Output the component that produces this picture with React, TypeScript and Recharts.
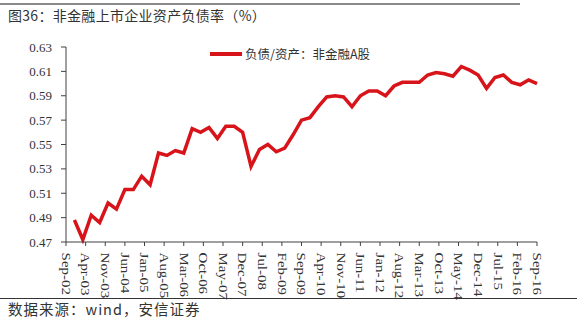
import React from 'react'
import { LineChart, Line, XAxis, YAxis } from 'recharts'

// quarterly values, Dec-02 .. Sep-16
const debtRatio = [
  0.488, 0.472, 0.492, 0.486, 0.502, 0.497, 0.513, 0.513, 0.524, 0.517,
  0.543, 0.541, 0.545, 0.543, 0.563, 0.560, 0.564, 0.555, 0.565, 0.565,
  0.560, 0.532, 0.546, 0.550, 0.544, 0.547, 0.558, 0.570, 0.572, 0.581,
  0.589, 0.590, 0.589, 0.581, 0.590, 0.594, 0.594, 0.590, 0.598, 0.601,
  0.601, 0.601, 0.607, 0.609, 0.608, 0.606, 0.614, 0.611, 0.607, 0.596,
  0.605, 0.607, 0.601, 0.599, 0.603, 0.600,
]

const xLabels = [
  'Sep-02', 'Apr-03', 'Nov-03', 'Jun-04', 'Jan-05', 'Aug-05', 'Mar-06', 'Oct-06',
  'May-07', 'Dec-07', 'Jul-08', 'Feb-09', 'Sep-09', 'Apr-10', 'Nov-10', 'Jun-11',
  'Jan-12', 'Aug-12', 'Mar-13', 'Oct-13', 'May-14', 'Dec-14', 'Jul-15', 'Feb-16', 'Sep-16',
]

const yTicks = [0.47, 0.49, 0.51, 0.53, 0.55, 0.57, 0.59, 0.61, 0.63]

// month offset from Sep-02; one point per quarter
const data = debtRatio.map((v, i) => ({ m: (i + 1) * 3, v }))
const xTicks = xLabels.map((_, i) => i * 7)

const RED = '#d8141b'
const AXIS = '#404040'
const serif = '"Liberation Serif", "Times New Roman", serif'
const cjk = '"Noto Sans CJK SC", sans-serif'

function XTick(props: any) {
  const { x, y, payload } = props
  const label = xLabels[Math.round(payload.value / 7)]
  return (
    <g transform={`translate(${x},${y})`}>
      <text
        transform="rotate(90) scale(1.15 1)"
        x={4}
        y={0}
        dominantBaseline="central"
        textAnchor="start"
        fontSize={13}
        fontFamily={serif}
        fill="#333"
      >
        {label}
      </text>
    </g>
  )
}

export default function App() {
  return (
    <div style={{ position: 'absolute', left: 0, top: 0, width: 582, height: 319, background: '#fff', overflow: 'hidden' }}>
      <div style={{ position: 'absolute', left: 0, top: 3, width: 520, height: 2, background: '#8a8a8a' }} />
      <div style={{ position: 'absolute', left: 8, top: 7, lineHeight: '17px', fontFamily: cjk, fontSize: 14, letterSpacing: 0.3, color: '#333', whiteSpace: 'nowrap' }}>
        图36：非金融上市企业资产负债率（%）
      </div>

      <LineChart width={582} height={319} data={data} margin={{ top: 47, right: 45, bottom: 0, left: 0 }}>
        <XAxis
          dataKey="m"
          type="number"
          domain={[0, 168]}
          ticks={xTicks}
          interval={0}
          height={77}
          tick={<XTick />}
          tickSize={4}
          axisLine={{ stroke: AXIS }}
          tickLine={{ stroke: AXIS }}
        />
        <YAxis
          domain={[0.47, 0.63]}
          ticks={yTicks}
          interval={0}
          width={66}
          tickSize={5}
          tickMargin={9}
          tickFormatter={(v) => Number(v).toFixed(2)}
          tick={{ fontSize: 13, fontFamily: serif, fill: '#333' }}
          axisLine={{ stroke: AXIS }}
          tickLine={{ stroke: AXIS }}
        />
        <Line
          dataKey="v"
          type="linear"
          stroke={RED}
          strokeWidth={3.5}
          dot={false}
          isAnimationActive={false}
        />
      </LineChart>

      <div style={{ position: 'absolute', left: 210, top: 44, display: 'flex', alignItems: 'center', whiteSpace: 'nowrap' }}>
        <div style={{ width: 32, height: 4, background: RED, marginRight: 3 }} />
        <span style={{ fontFamily: cjk, fontSize: 12.5, color: '#333' }}>负债/资产：非金融A股</span>
      </div>

      <div style={{ position: 'absolute', left: 0, top: 298, width: 577, height: 1, background: '#333' }} />
      <div style={{ position: 'absolute', left: 8, top: 301, lineHeight: '16px', fontFamily: cjk, fontSize: 14.5, letterSpacing: 1, color: '#333', whiteSpace: 'nowrap' }}>
        数据来源：wind，安信证券
      </div>
    </div>
  )
}
